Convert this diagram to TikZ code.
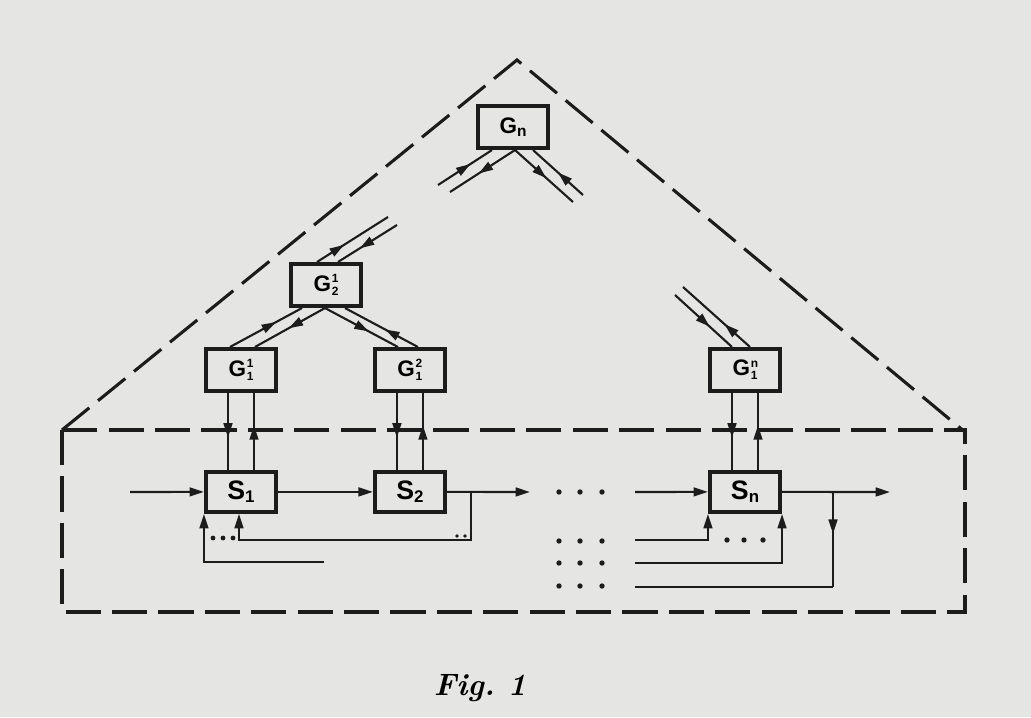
\documentclass[tikz,border=0pt]{standalone}
\usepackage{fontspec}
\setsansfont{Liberation Sans}
\usetikzlibrary{arrows.meta, positioning, calc, decorations.markings}
\definecolor{paper}{RGB}{229,229,227}
\definecolor{ink}{RGB}{28,28,28}
\tikzstyle{block} = [rectangle, minimum width=1.76cm, minimum height=1.06cm, text centered, draw=ink, line width=2.6pt, inner sep=0pt, font=\sffamily\bfseries\fontsize{16}{18}\selectfont]
\tikzstyle{sysbox} = [block, minimum height=1.01cm, font=\sffamily\bfseries\fontsize{19}{20}\selectfont]
\tikzstyle{wire} = [line width=1.5pt, color=ink]
\tikzstyle{arrow} = [wire, -{Triangle[length=0.36cm,width=0.22cm]}]
\tikzstyle{boundary} = [line width=2.2pt, color=ink, dash pattern=on 25pt off 8pt]
\tikzset{midarrow/.style={wire, postaction={decorate}, decoration={markings, mark=at position #1 with {\arrow{Triangle[length=0.36cm,width=0.22cm]}}}}, midarrow/.default=0.55}
\newcommand{\gidx}[2]{G\kern0.5pt\rlap{\raisebox{6pt}{\fontsize{8.5}{9}\selectfont #1}}\raisebox{-3pt}{\fontsize{8.5}{9}\selectfont #2}}
\newcommand{\sidx}[1]{S\raisebox{-2pt}{\fontsize{12}{12}\selectfont #1}}

\begin{document}
\begin{tikzpicture}[x=0.025cm, y=-0.025cm]
    \fill[paper] (0,0) rectangle (1031,717);
    \useasboundingbox (0,0) rectangle (1031,717);

    % dashed borders
    \draw[boundary] (62,430) -- (517,60) -- (965,432);
    \draw[boundary] (62,430) rectangle (965,612);

    % coordinators
    \node (gn) [block] at (513,127) {G\raisebox{-2pt}{\fontsize{11}{11}\selectfont n}};
    \node (g21) [block] at (326,285) {\gidx{1}{2}};
    \node (g11) [block] at (241,370) {\gidx{1}{1}};
    \node (g12) [block, right=2.37cm of g11] {\gidx{2}{1}};
    \node (g1n) [block] at (745,370) {\gidx{n}{1}};

    % subsystems
    \node (s1) [sysbox, below=1.92cm of g11] {\sidx{1}};
    \node (s2) [sysbox, below=1.92cm of g12] {\sidx{2}};
    \node (sn) [sysbox, below=1.92cm of g1n] {\sidx{n}};

    % free ends
    \coordinate (gnL1) at (438,185);
    \coordinate (gnL2) at (450,192);
    \coordinate (gnR1) at (573,202);
    \coordinate (gnR2) at (583,195);
    \coordinate (g21T1) at (388,217);
    \coordinate (g21T2) at (397,225);
    \coordinate (g1nT1) at (675,295);
    \coordinate (g1nT2) at (683,287);

    % top level links
    \draw[midarrow=0.6] (gnL1) -- ($(gn.south)+(-21,0)$);
    \draw[midarrow=0.56] ($(gn.south)+(2,0)$) -- (gnL2);
    \draw[midarrow=0.54] ($(gn.south)+(2,0)$) -- (gnR1);
    \draw[midarrow=0.5] (gnR2) -- ($(gn.south)+(20,0)$);
    \draw[midarrow=0.38] ($(g21.north)+(-9,0)$) -- (g21T1);
    \draw[midarrow=0.63] (g21T2) -- ($(g21.north)+(12,0)$);
    \draw[midarrow=0.61] (g1nT1) -- ($(g1n.north)+(-13,0)$);
    \draw[midarrow=0.38] ($(g1n.north)+(5,0)$) -- (g1nT2);

    % second level links
    \draw[midarrow=0.64] ($(g11.north)+(-11,0)$) -- ($(g21.south)+(-24,0)$);
    \draw[midarrow=0.52] ($(g21.south)+(-1,0)$) -- ($(g11.north)+(14,0)$);
    \draw[midarrow=0.6] ($(g21.south)+(-1,0)$) -- ($(g12.north)+(-12,0)$);
    \draw[midarrow=0.45] ($(g12.north)+(8,0)$) -- ($(g21.south)+(19,0)$);

    % coordinator to subsystem
    \draw[midarrow=0.58] ($(g11.south)+(-13,0)$) -- ($(s1.north)+(-13,0)$);
    \draw[midarrow=0.58] ($(s1.north)+(13,0)$) -- ($(g11.south)+(13,0)$);
    \draw[midarrow=0.58] ($(g12.south)+(-13,0)$) -- ($(s2.north)+(-13,0)$);
    \draw[midarrow=0.58] ($(s2.north)+(13,0)$) -- ($(g12.south)+(13,0)$);
    \draw[midarrow=0.58] ($(g1n.south)+(-13,0)$) -- ($(sn.north)+(-13,0)$);
    \draw[midarrow=0.58] ($(sn.north)+(13,0)$) -- ($(g1n.south)+(13,0)$);

    % main flow
    \coordinate (in1) at (130,492);
    \coordinate (out2) at (530,492);
    \coordinate (inn) at (635,492);
    \coordinate (outn) at (890,492);
    \draw[arrow] (in1) -- (s1.west);
    \draw[arrow] (s1.east) -- (s2.west);
    \draw[arrow] (s2.east) -- (out2);
    \draw[arrow] (inn) -- (sn.west);
    \draw[arrow] (sn.east) -- (outn);

    % feedback into S1
    \coordinate (tap2) at (471,492);
    \coordinate (fb1) at (239,540);
    \coordinate (fb2) at (324,562);
    \draw[arrow] (tap2) |- (fb1) -- (fb1 |- s1.south);
    \draw[arrow] (fb2) -| (s1.south west);

    % feedback into Sn
    \coordinate (tap) at (833,492);
    \coordinate (retn) at (635,587);
    \coordinate (rn1) at (635,540);
    \coordinate (rn2) at (635,563);
    \draw[midarrow=0.44] (tap) -- (tap |- retn);
    \draw[wire] (tap |- retn) -- (retn);
    \draw[arrow] (rn1) -| (sn.south west);
    \draw[arrow] (rn2) -| (sn.south east);

    % dots
    \fill[ink] (213,538) circle (1.7pt) (223,538) circle (1.7pt) (233,538) circle (1.7pt);
    \fill[ink] (457,536) circle (1.4pt) (465,536) circle (1.4pt);
    \fill[ink] (727,540) circle (1.9pt) (744,540) circle (1.9pt) (763,540) circle (1.9pt);
    \fill[ink] (559,492) circle (1.9pt) (580,492) circle (1.9pt) (602,492) circle (1.9pt);
    \fill[ink] (559,541) circle (1.9pt) (580,541) circle (1.9pt) (602,541) circle (1.9pt);
    \fill[ink] (559,563) circle (1.9pt) (580,563) circle (1.9pt) (602,563) circle (1.9pt);
    \fill[ink] (559,586) circle (1.9pt) (580,586) circle (1.9pt) (602,586) circle (1.9pt);

    \node (caption) at (480,688) {\fontsize{22}{24}\selectfont\bfseries\itshape Fig.\ 1};
\end{tikzpicture}
\end{document}
